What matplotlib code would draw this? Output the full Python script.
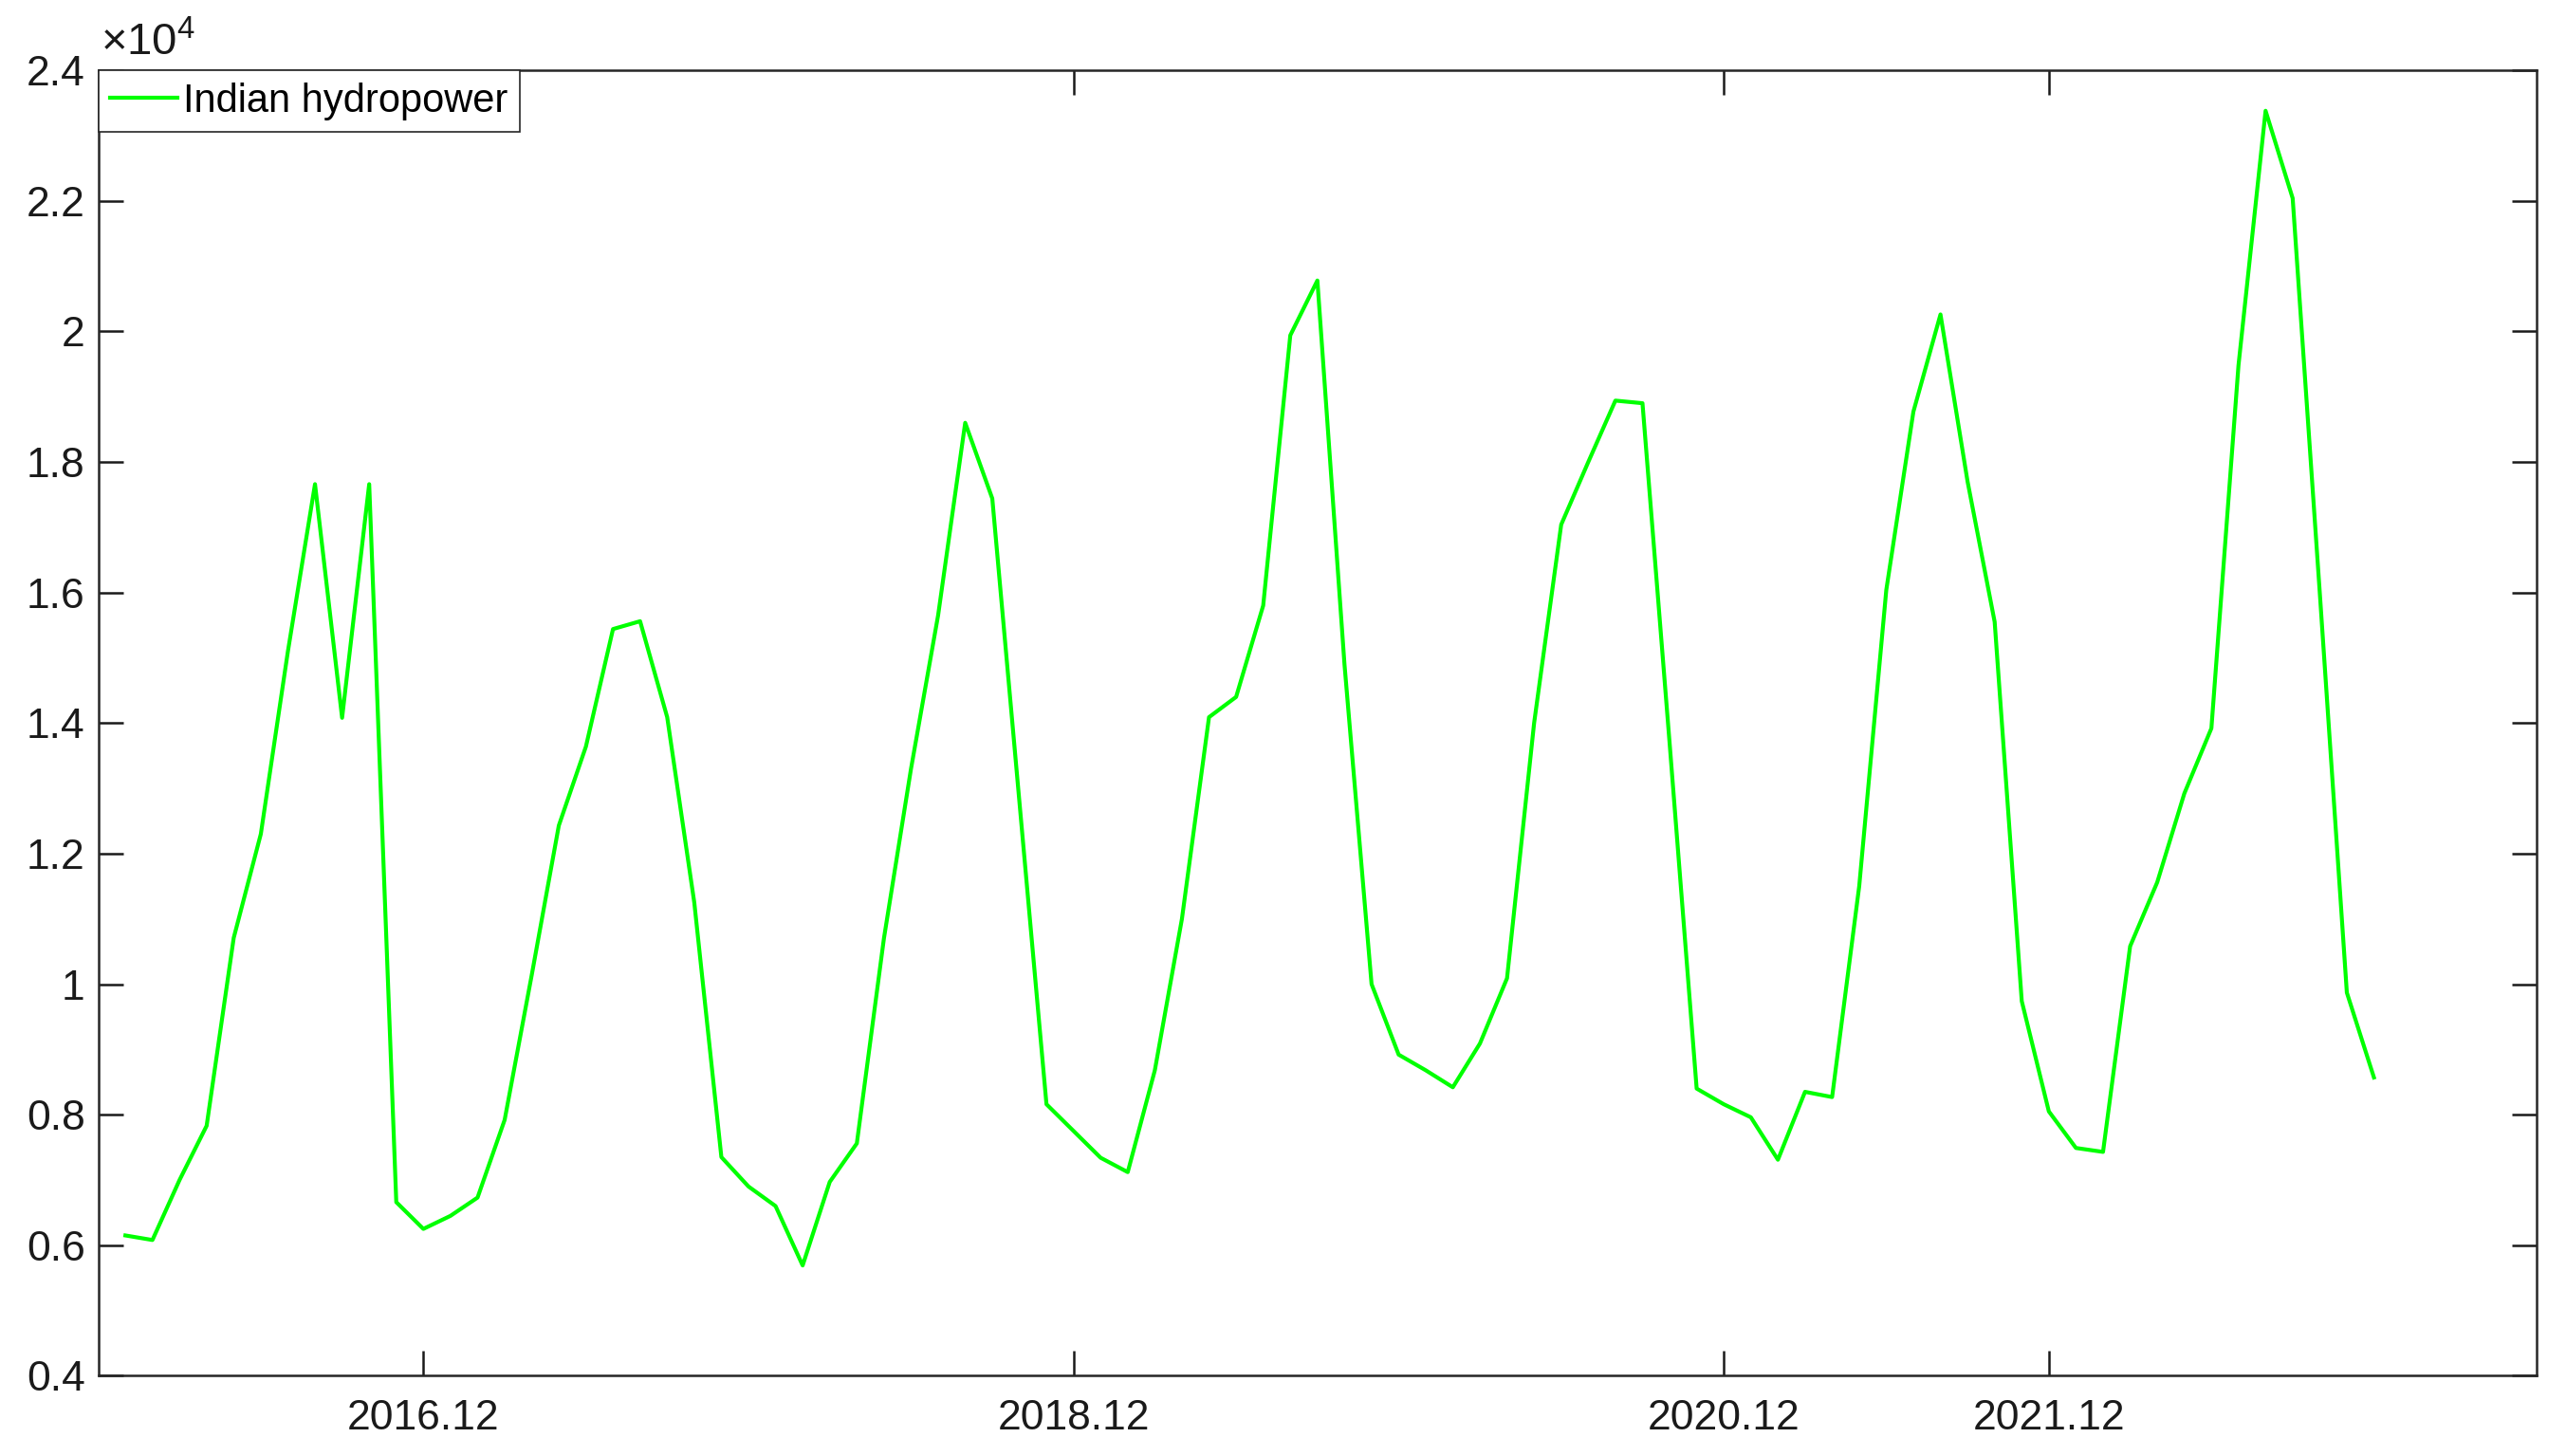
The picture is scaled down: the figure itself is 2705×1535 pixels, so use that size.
#!/usr/bin/env python

import numpy as np
import matplotlib
matplotlib.use("Agg")
import matplotlib.pyplot as plt
from matplotlib.ticker import FuncFormatter

# monthly Indian hydropower generation, 2016.01 - 2022.12 (units of 1e4)
hydro = [0.615, 0.608, 0.700, 0.783, 1.071, 1.230, 1.510, 1.766, 1.408, 1.766, 0.666, 0.625,
         0.645, 0.673, 0.792, 1.014, 1.243, 1.364, 1.544, 1.556, 1.409, 1.125, 0.735, 0.690,
         0.660, 0.569, 0.697, 0.756, 1.070, 1.330, 1.565, 1.860, 1.744, 1.280, 0.816, 0.775,
         0.734, 0.712, 0.868, 1.100, 1.409, 1.440, 1.580, 1.994, 2.078, 1.490, 1.000, 0.892,
         0.868, 0.842, 0.909, 1.009, 1.400, 1.704, 1.800, 1.894, 1.890, 1.370, 0.840, 0.816,
         0.796, 0.731, 0.835, 0.827, 1.150, 1.604, 1.877, 2.026, 1.770, 1.555, 0.974, 0.805,
         0.749, 0.743, 1.058, 1.156, 1.292, 1.392, 1.948, 2.338, 2.204, 1.600, 0.987, 0.857]
hydro = np.array(hydro) * 1e4
months = np.arange(1, len(hydro) + 1)

tickMonths = [12, 36, 60, 72]
tickLabels = ["2016.12", "2018.12", "2020.12", "2021.12"]
yticks = np.arange(0.4, 2.41, 0.2) * 1e4

plt.rcParams['font.family'] = ['Liberation Sans', 'DejaVu Sans']
plt.rcParams['mathtext.fontset'] = 'custom'
plt.rcParams['mathtext.rm'] = 'Liberation Sans'
plt.rcParams['mathtext.it'] = 'Liberation Sans'

dark = '#262626'
fig = plt.figure(figsize=(13.525, 7.675), dpi=200)
ax = fig.add_axes([0.0383, 0.0551, 0.9502, 0.8966])

ax.plot(months, hydro, color=(0, 1, 0), lw=1.5, label="Indian hydropower")

ax.set_xlim(0, 90)
ax.set_ylim(0.4e4, 2.4e4)
ax.set_xticks(tickMonths)
ax.set_xticklabels(tickLabels)
ax.set_yticks(yticks)
ax.yaxis.set_major_formatter(FuncFormatter(lambda v, p: '%g' % round(v / 1e4, 1)))

ax.tick_params(direction='in', length=9.4, width=0.9, colors='#1a1a1a',
               labelsize=16, top=True, right=True)
ax.tick_params(axis='x', pad=9)
ax.tick_params(axis='y', pad=5)
for s in ax.spines.values():
    s.set_color(dark)
    s.set_linewidth(0.9)

ax.text(0.001, 1.004, r'$\times10^{4}$', transform=ax.transAxes,
        fontsize=17, color='#1a1a1a', ha='left', va='bottom')

leg = ax.legend(loc='upper left', borderaxespad=0, fontsize=15, fancybox=False,
                framealpha=1, edgecolor=dark, borderpad=0.3,
                handlelength=1.7, handletextpad=0.15)
leg.get_frame().set_linewidth(0.6)
for t in leg.get_texts():
    t.set_color('black')

fig.savefig("out.png", dpi=200)
